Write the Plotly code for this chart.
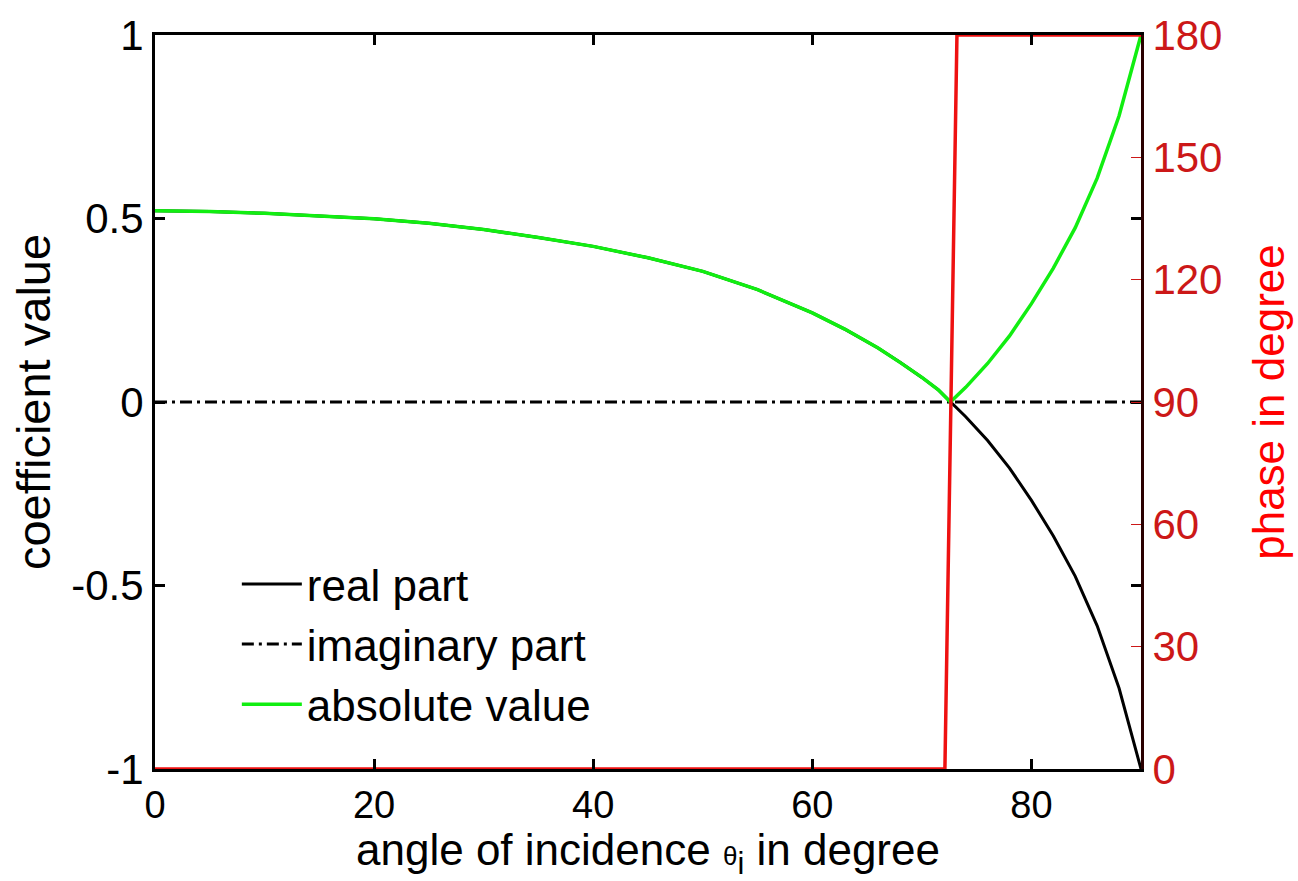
import plotly.graph_objects as go

# ---- data ----
theta = [0, 5, 10, 15, 20, 25, 30, 35, 40, 45, 50, 55, 60, 63, 66, 68, 70, 71.5, 72.6,
         74, 76, 78, 80, 82, 84, 86, 88, 90]
real_part = [0.521, 0.519, 0.514, 0.507, 0.499, 0.487, 0.470, 0.448, 0.424, 0.393,
             0.356, 0.306, 0.243, 0.198, 0.147, 0.108, 0.067, 0.033, 0.0,
             -0.040, -0.105, -0.180, -0.268, -0.365, -0.475, -0.610, -0.780, -1.0]
imag_part = [0.0] * len(theta)
abs_value = [0.521, 0.519, 0.514, 0.507, 0.499, 0.487, 0.470, 0.448, 0.424, 0.393,
             0.356, 0.306, 0.243, 0.198, 0.147, 0.108, 0.067, 0.033, 0.0,
             0.040, 0.105, 0.180, 0.268, 0.365, 0.475, 0.610, 0.780, 1.0]
theta_phase = [0, 72.1, 73.2, 90]
phase_deg = [0, 0, 180, 180]

x_ticks = [0, 20, 40, 60, 80]
y_ticks = [-1, -0.5, 0, 0.5, 1]
y_tick_text = ["-1", "-0.5", "0", "0.5", "1"]
phase_ticks = [0, 30, 60, 90, 120, 150, 180]

FONT = "Liberation Sans, Arial, sans-serif"
RED = "#ee1111"
DARKRED = "#cc1818"

fig = go.Figure()
fig.add_trace(go.Scatter(x=theta, y=real_part, mode="lines", name="real part",
                         line=dict(color="black", width=3)))
fig.add_trace(go.Scatter(x=theta, y=imag_part, mode="lines", name="imaginary part",
                         line=dict(color="black", width=3, dash="12px,5px,3px,5px")))
fig.add_trace(go.Scatter(x=theta, y=abs_value, mode="lines", name="absolute value",
                         line=dict(color="#11ee11", width=3.5)))
fig.add_trace(go.Scatter(x=theta_phase, y=phase_deg, mode="lines", name="phase",
                         yaxis="y2", showlegend=False,
                         line=dict(color=RED, width=3.5)))

fig.update_layout(
    width=1298, height=881,
    margin=dict(l=155, r=157, t=26, b=112),
    paper_bgcolor="white", plot_bgcolor="white",
    font=dict(family=FONT, size=42, color="black"),
    showlegend=True,
    legend=dict(x=0.083, y=0.30, xanchor="left", yanchor="top",
                bgcolor="rgba(255,255,255,0)", borderwidth=0,
                font=dict(size=44, family=FONT), itemwidth=60,
                tracegroupgap=0),
    xaxis=dict(range=[0, 90], tickvals=x_ticks, ticks="inside", ticklen=10,
               tickwidth=3, tickcolor="black", showline=True, linewidth=3,
               linecolor="black", mirror="ticks", showgrid=False, zeroline=False,
               tickfont=dict(size=38, family=FONT),
               title=dict(text="angle of incidence <span style='font-size:26px'>θ</span><sub>i</sub> in degree",
                          font=dict(size=44, family=FONT), standoff=4)),
    yaxis=dict(range=[-1, 1], tickvals=y_ticks, ticktext=y_tick_text,
               ticks="inside", ticklen=10, tickwidth=3,
               tickcolor="black", showline=True, linewidth=3, linecolor="black",
               mirror="ticks", showgrid=False, zeroline=False,
               tickfont=dict(size=42, family=FONT),
               title=dict(text="coefficient value", font=dict(size=47, family=FONT),
                          standoff=6)),
    yaxis2=dict(range=[0, 180], tickvals=phase_ticks, overlaying="y", side="right",
                ticks="inside", ticklen=10, tickwidth=1, tickcolor=DARKRED,
                showline=True, linewidth=3, linecolor="#2a0000",
                showgrid=False, zeroline=False,
                tickfont=dict(size=42, family=FONT, color=DARKRED),
                title=dict(text="phase in degree", font=dict(size=44, family=FONT, color="#ff0000"),
                           standoff=32)),
)

fig.write_html("out.html")
